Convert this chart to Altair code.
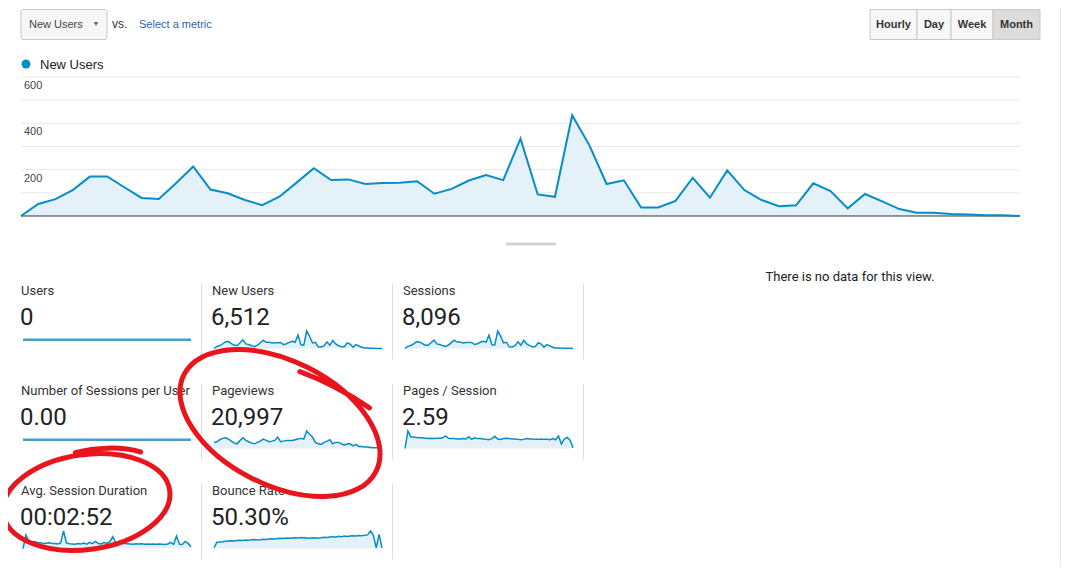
import altair as alt
import pandas as pd

# ---------------- data ----------------
series_name = "New Users"
new_users = [0, 52, 73, 112, 170, 171, 124, 78, 73, 141,
             214, 114, 98, 69, 47, 83, 144, 206, 155, 158,
             138, 142, 144, 150, 96, 117, 153, 177, 155, 334,
             93, 83, 435, 305, 138, 154, 37, 37, 65, 165,
             79, 197, 112, 69, 42, 46, 141, 108, 33, 95,
             63, 30, 14, 14, 9, 7, 3, 3, 0]
axis_ticks = [600, 400, 200]
grid_values = [100, 200, 300, 400, 500, 600]

users = [0] * 59
sessions_per_user = [0] * 59
sessions = [5, 65, 92, 140, 205, 200, 150, 98, 95, 175,
            255, 140, 120, 88, 62, 105, 180, 250, 195, 195,
            170, 178, 180, 185, 120, 146, 190, 220, 195, 405,
            115, 105, 530, 375, 170, 190, 50, 48, 85, 205,
            100, 245, 140, 88, 55, 58, 175, 135, 42, 120,
            80, 40, 18, 18, 12, 9, 4, 4, 0]
pageviews = [330, 365, 475, 550, 585, 510, 400, 290, 255, 440,
             585, 440, 365, 290, 255, 330, 400, 510, 440, 365,
             400, 440, 620, 365, 400, 440, 440, 440, 475, 510,
             550, 510, 950, 770, 620, 330, 255, 220, 330, 400,
             475, 255, 330, 330, 255, 185, 255, 255, 145, 220,
             110, 110, 75, 75, 55, 37, 37, 37, 37]
pages_per_session = [0, 4.6, 3.0, 3.0, 2.9, 2.8, 2.8, 2.7, 2.6, 2.7,
                     2.6, 2.7, 2.7, 2.8, 3.3, 2.7, 2.6, 2.6, 2.5, 2.5,
                     2.6, 2.5, 3.1, 2.4, 2.8, 2.6, 2.6, 2.5, 2.4, 2.3,
                     2.6, 3.2, 2.5, 2.4, 2.6, 2.7, 2.6, 2.5, 2.5, 2.4,
                     2.3, 2.4, 2.6, 2.5, 2.5, 2.4, 2.4, 2.5, 2.4, 2.4,
                     2.3, 2.6, 2.3, 3.3, 1.2, 2.5, 2.9, 2.2, 0.2]
avg_session_duration = [0, 480, 270, 230, 250, 210, 200, 180, 190, 200,
                        180, 180, 160, 200, 620, 200, 170, 160, 150, 180,
                        160, 190, 150, 220, 170, 250, 180, 160, 210, 190,
                        240, 420, 200, 160, 190, 180, 170, 160, 150, 170,
                        160, 170, 150, 160, 150, 160, 150, 160, 150, 140,
                        160, 220, 150, 440, 150, 140, 250, 180, 60]
bounce_rate = [3, 26, 27, 28, 30, 31, 32, 31, 33, 34,
               33, 35, 34, 36, 37, 35, 36, 38, 37, 39,
               40, 39, 41, 42, 41, 43, 42, 43, 44, 43,
               45, 44, 43, 42, 44, 43, 42, 44, 46, 45,
               47, 49, 46, 50, 48, 51, 49, 51, 52, 51,
               53, 52, 54, 56, 72, 55, 3, 58, 3]

metric_names = ["Users", "New Users", "Sessions",
                "Number of Sessions per User", "Pageviews", "Pages / Session",
                "Avg. Session Duration", "Bounce Rate"]
metric_totals = ["0", "6,512", "8,096", "0.00", "20,997", "2.59",
                 "00:02:52", "50.30%"]
metric_series = [users, new_users, sessions, sessions_per_user, pageviews,
                 pages_per_session, avg_session_duration, bounce_rate]

metric_menu = ["New Users"]
compare_text = ["vs."]
select_text = ["Select a metric"]
interval_buttons = ["Hourly", "Day", "Week", "Month"]
active_button = "Month"
empty_message = ["There is no data for this view."]

# ---------------- layout constants (chart px = page px - 8) ----------------
OFF = 8
BLUE = "#058dc7"
FILL = "#e4f1f8"
FONT = "Roboto"
UIFONT = "Liberation Sans"

def P(v):
    return v - OFF

layers = []

def text_layer(s, x, y, size, color, weight="normal", font=FONT, align="left"):
    return alt.Chart(pd.DataFrame({"label": [s]})).mark_text(
        align=align, baseline="middle", fontSize=size, font=font,
        color=color, fontWeight=weight
    ).encode(x=alt.value(x), y=alt.value(y), text="label:N")

def box_layer(label, x0, x1, y0, y1, fill, stroke, radius=0):
    return alt.Chart(pd.DataFrame({"label": [label]})).mark_rect(
        fill=fill, stroke=stroke, strokeWidth=1, cornerRadius=radius
    ).encode(x=alt.value(x0), x2=alt.value(x1), y=alt.value(y0), y2=alt.value(y1))

# ----- header: metric dropdown -----
layers.append(box_layer(metric_menu[0], P(21), P(107), P(9.5), P(39.5), "#f6f6f6", "#c9c9c9", 2))
layers.append(text_layer(metric_menu[0], P(29), P(24.5), 11, "#444444", font=UIFONT))
layers.append(alt.Chart(pd.DataFrame({"label": metric_menu})).mark_point(
    shape="triangle-down", filled=True, size=22, color="#666666", opacity=1
).encode(x=alt.value(P(96)), y=alt.value(P(24))))
layers.append(text_layer(compare_text[0], P(112), P(23.5), 12, "#333333", font=UIFONT))
layers.append(text_layer(select_text[0], P(139), P(24.5), 11, "#2a67ad", font=UIFONT))

# ----- header: interval buttons -----
btn_edges = [870, 917, 951, 993, 1040]
for k, b in enumerate(interval_buttons):
    fill = "#dcdcdc" if b == active_button else "#f7f7f7"
    layers.append(box_layer(b, P(btn_edges[k]), P(btn_edges[k + 1]), P(9.5), P(39.5), fill, "#c9c9c9"))
    layers.append(text_layer(b, P((btn_edges[k] + btn_edges[k + 1]) / 2), P(24.5), 11,
                             "#333333", weight="bold", font=UIFONT, align="center"))

# ----- legend -----
layers.append(alt.Chart(pd.DataFrame({"label": [series_name]})).mark_point(
    shape="circle", filled=True, size=80, color=BLUE, opacity=1
).encode(x=alt.value(P(26)), y=alt.value(P(64))))
layers.append(text_layer(series_name, P(40), P(64.5), 13, "#222222", font=UIFONT))

# ----- main chart -----
idx = list(range(len(new_users)))
main_df = pd.DataFrame({"period": idx, "value": new_users})
xs = alt.Scale(domain=[0, len(new_users) - 1], range=[P(21), P(1020)], nice=False, zero=False)
ys = alt.Scale(domain=[0, 600], range=[P(216), P(77)], nice=False)

grid = alt.Chart(pd.DataFrame({"g": grid_values})).mark_rule(color="#e8e8e8", strokeWidth=1).encode(
    y=alt.Y("g:Q", scale=ys, axis=None), x=alt.value(P(21)), x2=alt.value(P(1020)))
area = alt.Chart(main_df).mark_area(color=FILL, opacity=1).encode(
    x=alt.X("period:Q", scale=xs, axis=None), y=alt.Y("value:Q", scale=ys, axis=None))
base = alt.Chart(pd.DataFrame({"g": [0]})).mark_rule(color="#333333", strokeWidth=1.2).encode(
    y=alt.Y("g:Q", scale=ys, axis=None), x=alt.value(P(21)), x2=alt.value(P(1020)))
line = alt.Chart(main_df).mark_line(color=BLUE, strokeWidth=2).encode(
    x=alt.X("period:Q", scale=xs, axis=None), y=alt.Y("value:Q", scale=ys, axis=None))
ticks = alt.Chart(pd.DataFrame({"t": axis_ticks})).mark_text(
    align="left", baseline="middle", dy=9, fontSize=11, font=UIFONT, color="#444444"
).encode(y=alt.Y("t:Q", scale=ys, axis=None), x=alt.value(P(24)), text="t:Q")
layers.append(alt.layer(grid, area, base, line, ticks))

# small drag handle under the chart
layers.append(box_layer("handle", P(506), P(556), P(243), P(245), "#d2d2d2", "#d2d2d2", 1))

# ----- no data message -----
layers.append(text_layer(empty_message[0], P(850), P(276.5), 13, "#222222", align="center"))

# ----- scorecards -----
COL_W = 191
for k, name in enumerate(metric_names):
    r, c = divmod(k, 3)
    x0 = 21 + c * COL_W
    ytop = 290.5 + r * 100
    layers.append(text_layer(name, P(x0), P(ytop), 13, "#333333"))
    layers.append(text_layer(metric_totals[k], P(x0 - 1), P(ytop + 27), 24, "#222222"))
    s = metric_series[k]
    sdf = pd.DataFrame({"period": list(range(len(s))), "value": s})
    sx = alt.Scale(domain=[0, len(s) - 1], range=[P(x0 + 2), P(x0 + 170)], nice=False, zero=False)
    sbase = 348.5 + r * 100
    if max(s) == 0:
        sy = alt.Scale(domain=[-1, 1], range=[P(sbase), P(sbase - 17.5)], nice=False)
        layers.append(alt.Chart(sdf).mark_line(color="#4b9bc8", strokeWidth=2.5).encode(
            x=alt.X("period:Q", scale=sx, axis=None), y=alt.Y("value:Q", scale=sy, axis=None)))
    else:
        sy = alt.Scale(domain=[0, max(s)], range=[P(sbase), P(sbase - 17.5)], nice=False)
        sa = alt.Chart(sdf).mark_area(color=FILL, opacity=1).encode(
            x=alt.X("period:Q", scale=sx, axis=None), y=alt.Y("value:Q", scale=sy, axis=None))
        sl = alt.Chart(sdf).mark_line(color=BLUE, strokeWidth=1.5).encode(
            x=alt.X("period:Q", scale=sx, axis=None), y=alt.Y("value:Q", scale=sy, axis=None))
        layers.append(alt.layer(sa, sl))
    # separator at right of the card
    layers.append(alt.Chart(pd.DataFrame({"label": [name]})).mark_rule(color="#dddddd", strokeWidth=1).encode(
        x=alt.value(P(x0 + 180.5)), y=alt.value(P(ytop - 6.5)), y2=alt.value(P(ytop + 69))))

# ----- right page border -----
layers.append(alt.Chart(pd.DataFrame({"label": ["border"]})).mark_rule(color="#e6e6e6", strokeWidth=1).encode(
    x=alt.value(P(1060.5)), y=alt.value(0), y2=alt.value(P(575))))

# ----- hand-drawn red circles (annotations) -----
def ellipse_path(r, tail):
    k = 0.5523
    p = (f"M 1 0 C 1 {k*r:.3f} {k:.3f} {r:.3f} 0 {r:.3f} "
         f"C {-k:.3f} {r:.3f} -1 {k*r:.3f} -1 0 "
         f"C -1 {-k*r:.3f} {-k:.3f} {-r:.3f} 0 {-r:.3f} "
         f"C {k:.3f} {-r:.3f} 1 {-k*r:.3f} 1 0")
    (ax, ay), (b1x, b1y), (b2x, b2y), (bx, by) = tail
    p += f" M {ax} {ay} C {b1x} {b1y} {b2x} {b2y} {bx} {by}"
    return p

annotations = [
    # (center x, center y, semi-major px, ratio, angle, tail)
    (280, 423, 107.5, 0.577, 26.7, [(-0.05, -0.51), (0.2, -0.54), (0.45, -0.53), (0.68, -0.5)]),
    (86.5, 502, 84, 0.565, 352, [(-0.05, -0.6), (0.2, -0.63), (0.5, -0.6), (0.72, -0.5)]),
]
for cx, cy, a, ratio, ang, tail in annotations:
    layers.append(alt.Chart(pd.DataFrame({"label": ["highlight"]})).mark_point(
        shape=ellipse_path(ratio, tail), size=(2 * a) ** 2, angle=ang, filled=False,
        stroke="#e8161c", strokeWidth=5, opacity=1, strokeCap="round"
    ).encode(x=alt.value(P(cx)), y=alt.value(P(cy))))

chart = alt.layer(*layers).resolve_scale(
    x="independent", y="independent"
).properties(
    width=1053, height=559, padding=0,
    autosize=alt.AutoSizeParams(type="none"), background="white"
).configure_view(stroke=None)

chart.save("out.html", embed_options={"renderer": "svg", "actions": False})
